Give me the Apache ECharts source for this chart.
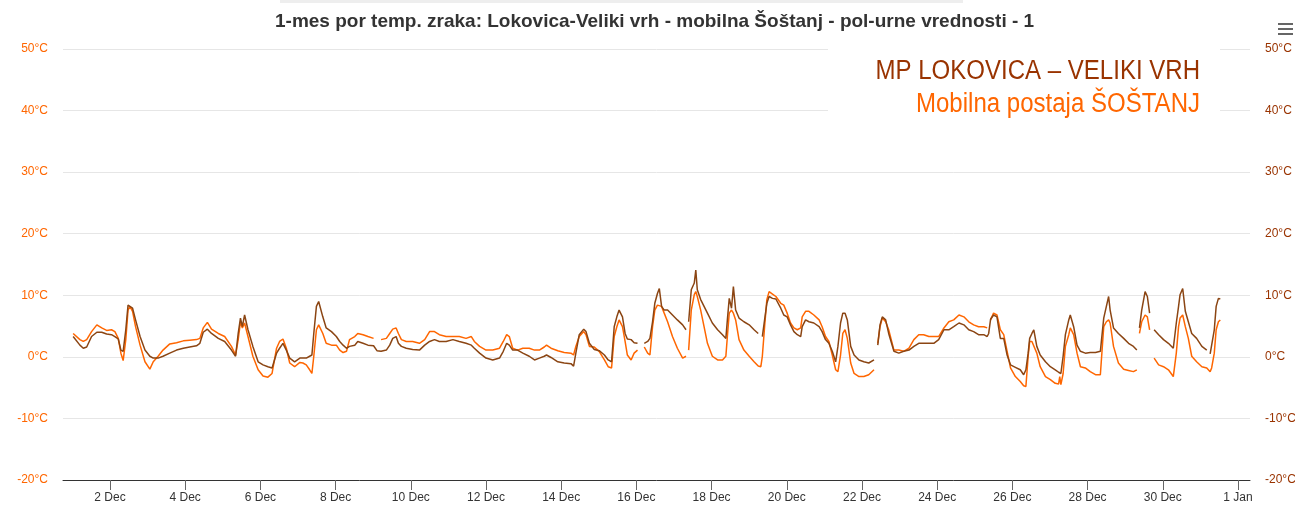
<!DOCTYPE html>
<html>
<head>
<meta charset="utf-8">
<script src="https://cdn.jsdelivr.net/npm/echarts@6/dist/echarts.min.js"></script>
<style>
  html, body { margin: 0; padding: 0; background: #fff; }
  #main { width: 1295px; height: 506px; }
</style>
</head>
<body>
<div id="main"></div>
<script>
// x = day of December (1.0 = 1 Dec 00:00)
var days = [
  1.02, 1.07, 1.20, 1.29, 1.38, 1.51, 1.65, 1.78, 1.91, 2.04, 2.13, 2.22, 2.29, 2.35, 2.42, 2.48, 2.53, 2.60, 2.68, 2.80,
  2.93, 3.06, 3.15, 3.28, 3.41, 3.59, 3.77, 3.95, 4.12, 4.30, 4.39, 4.48, 4.59, 4.70, 4.88, 5.05, 5.23, 5.34, 5.41, 5.47,
  5.52, 5.58, 5.67, 5.80, 5.94, 6.07, 6.20, 6.31, 6.43, 6.51, 6.60, 6.69, 6.78, 6.91, 7.05, 7.13, 7.22, 7.31, 7.37, 7.42,
  7.49, 7.55, 7.60, 7.66, 7.75, 7.89, 8.02, 8.11, 8.20, 8.29, 8.37, 8.51, 8.59, 8.73, 8.86, 9.01, 9.10, 9.21, 9.35, 9.44,
  9.52, 9.61, 9.67, 9.75, 9.88, 10.05, 10.23, 10.37, 10.50, 10.63, 10.76, 10.94, 11.12, 11.29, 11.47, 11.61, 11.69, 11.83, 12.00, 12.18,
  12.36, 12.46, 12.55, 12.62, 12.71, 12.84, 12.98, 13.15, 13.29, 13.42, 13.55, 13.61, 13.73, 13.91, 14.08, 14.26, 14.33, 14.39, 14.48, 14.60,
  14.66, 14.75, 14.88, 15.01, 15.15, 15.25, 15.34, 15.41, 15.48, 15.54, 15.59, 15.63, 15.70, 15.76, 15.86, 15.94, 16.03, 16.09, 16.21, 16.30,
  16.36, 16.43, 16.49, 16.56, 16.61, 16.67, 16.74, 16.83, 16.96, 17.09, 17.23, 17.32, 17.35, 17.39, 17.46, 17.54, 17.58, 17.62, 17.71, 17.80,
  17.89, 18.02, 18.16, 18.29, 18.38, 18.42, 18.47, 18.53, 18.58, 18.64, 18.73, 18.86, 19.00, 19.13, 19.24, 19.31, 19.35, 19.41, 19.47, 19.53,
  19.62, 19.71, 19.84, 19.92, 20.01, 20.10, 20.19, 20.28, 20.37, 20.41, 20.50, 20.59, 20.72, 20.86, 20.94, 21.03, 21.12, 21.21, 21.30, 21.36,
  21.43, 21.49, 21.55, 21.61, 21.70, 21.79, 21.92, 22.05, 22.18, 22.32, 22.37, 22.42, 22.48, 22.54, 22.63, 22.71, 22.85, 22.98, 23.11, 23.25,
  23.38, 23.51, 23.64, 23.78, 23.91, 24.04, 24.18, 24.31, 24.44, 24.58, 24.71, 24.84, 24.97, 25.10, 25.24, 25.33, 25.37, 25.42, 25.50, 25.59,
  25.68, 25.77, 25.86, 25.95, 26.08, 26.21, 26.30, 26.36, 26.42, 26.46, 26.52, 26.57, 26.65, 26.74, 26.88, 27.01, 27.14, 27.23, 27.26, 27.29,
  27.35, 27.41, 27.50, 27.54, 27.58, 27.63, 27.72, 27.81, 27.94, 28.07, 28.21, 28.34, 28.43, 28.50, 28.56, 28.60, 28.69, 28.82, 28.96, 29.09,
  29.22, 29.31, 29.34, 29.38, 29.44, 29.53, 29.59, 29.65, 29.71, 29.77, 29.89, 30.02, 30.15, 30.28, 30.36, 30.42, 30.46, 30.53, 30.60, 30.68,
  30.77, 30.90, 31.04, 31.17, 31.22, 31.26, 31.30, 31.37, 31.42, 31.48, 31.53
];

// MP Lokovica - Veliki vrh (°C)
var lokovica = [
  3.3, 3.6, 1.9, 1.4, 1.6, 3.3, 4.0, 4.0, 3.7, 3.6, 3.3, 2.9, 1.1, 0.9, 4.4, 8.4, 8.6, 7.9, 6.0, 3.3,
  1.1, 0.1, -0.2, -0.2, 0.1, 0.6, 1.1, 1.4, 1.6, 1.8, 2.2, 4.0, 4.5, 3.8, 3.0, 2.5, 1.1, 0.1, 3.8, 6.3,
  4.9, 6.8, 4.4, 1.7, -0.8, -1.3, -1.6, -1.8, 0.6, 1.4, 2.2, 1.1, -0.2, -0.8, -0.2, -0.2, -0.2, 0.1, 0.3, 3.8,
  8.2, 9.0, 8.8, 6.5, 4.7, 4.1, 3.3, 2.5, 1.9, 1.4, 1.7, 1.9, 2.5, 2.2, 1.9, 1.8, 1.0, 0.9, 1.1, 1.9,
  3.0, 3.3, 2.2, 1.7, 1.4, 1.2, 1.1, 1.9, 2.5, 2.8, 2.5, 2.5, 2.8, 2.5, 2.2, 1.9, 1.4, 0.6, -0.2, -0.5,
  -0.2, 0.9, 2.2, 1.9, 1.1, 1.1, 0.6, 0.1, -0.5, -0.2, 0.1, 0.3, -0.1, -0.8, -1.0, -1.1, -1.5, 0.6, 3.6, 4.5,
  4.1, 2.2, 1.2, 1.0, 0.3, -0.5, -0.8, 4.9, 6.5, 7.6, 7.7, 6.5, 3.8, 2.9, 2.8, 2.3, 2.2, null, 2.2, 2.5,
  3.0, 5.7, 8.7, 10.3, 11.1, 8.2, 7.6, 7.6, 6.8, 6.0, 5.2, 4.4, null, 5.7, 10.9, 12.0, 14.1, 10.9, 9.3, 8.2,
  7.1, 5.5, 4.4, 3.6, 3.0, 6.0, 9.5, 7.9, 11.4, 7.6, 6.3, 5.7, 5.2, 4.4, 3.8, null, 3.3, 6.0, 8.7, 9.8,
  9.5, 9.4, 7.9, 6.8, 6.5, 5.2, 4.1, 3.6, 3.3, 4.9, 6.0, 5.7, 5.5, 4.9, 4.1, 2.8, 2.2, 0.9, -0.8, 1.7,
  5.5, 7.1, 7.1, 6.0, 1.7, 0.3, -0.5, -0.8, -1.0, -0.5, null, 1.9, 5.2, 6.5, 6.0, 3.8, 0.9, 0.6, 0.9, 1.1,
  1.7, 2.2, 2.2, 2.2, 2.2, 2.8, 4.4, 4.4, 4.9, 5.5, 5.2, 4.4, 4.1, 3.6, 3.6, 3.3, 3.8, 6.1, 6.8, 6.5,
  3.0, 3.0, 0.3, -1.3, -1.7, -2.1, -2.9, -2.1, 0.6, 3.0, 3.8, 4.4, 1.7, 0.3, -0.8, -1.6, -2.1, -2.5, -2.5, -2.7,
  0.1, 3.6, 6.0, 6.8, 6.8, 4.9, 1.9, 0.9, 0.6, 0.7, 0.7, 0.9, 6.3, 8.2, 9.8, 7.6, 4.7, 3.8, 3.0, 2.2,
  1.7, 1.1, null, 4.7, 7.6, 10.6, 9.8, 7.1, null, 4.4, 3.6, 2.8, 2.2, 1.4, 5.5, 8.2, 10.1, 11.1, 7.4, 5.7,
  3.8, 3.0, 1.7, 1.1, null, 0.5, 0.5, 4.4, 8.2, 9.5, 9.4
];

// Mobilna postaja Šoštanj (°C)
var sostanj = [
  3.8, 4.1, 2.8, 2.5, 2.8, 4.1, 5.2, 4.7, 4.3, 4.4, 4.1, 3.0, 0.6, -0.6, 2.8, 7.6, 8.2, 7.4, 4.9, 1.9,
  -0.8, -2.0, -0.8, 0.1, 1.1, 2.1, 2.3, 2.6, 2.7, 2.8, 3.0, 4.7, 5.6, 4.5, 3.8, 3.3, 1.7, 0.3, 2.8, 5.7,
  4.7, 5.5, 3.3, 0.1, -2.1, -3.1, -3.3, -2.7, 1.4, 2.5, 2.9, 1.4, -1.0, -1.6, -0.9, -1.0, -1.3, -2.1, -2.7, 0.1,
  4.4, 5.2, 5.5, 3.8, 2.2, 1.9, 1.9, 1.1, 0.7, 0.9, 2.8, 3.3, 3.8, 3.6, 3.3, 3.0, null, 2.8, 3.0, 3.8,
  4.5, 4.7, 3.8, 2.8, 2.5, 2.5, 2.2, 2.8, 4.1, 4.1, 3.6, 3.3, 3.3, 3.3, 3.0, 3.3, 2.5, 1.7, 1.1, 1.1,
  1.4, 2.5, 3.6, 3.3, 1.4, 1.1, 1.4, 1.4, 1.1, 1.1, 1.6, 1.9, 1.4, 1.0, 0.7, 0.6, 0.3, 1.7, 3.3, 4.1,
  3.6, 1.7, 1.6, 0.9, -0.5, -1.6, -1.8, 3.3, 4.9, 6.0, 6.3, 4.9, 2.5, 0.3, -0.5, 0.6, 1.1, null, 1.6, 0.6,
  0.3, 4.9, 7.6, 8.4, 8.4, 8.2, 7.1, 5.7, 3.3, 1.4, -0.2, 0.1, null, 1.1, 7.6, 10.1, 10.6, 9.8, 7.6, 4.9,
  2.2, 0.1, -0.5, -0.5, 0.1, 3.3, 7.1, 7.6, 7.1, 6.0, 2.8, 1.1, 0.1, -0.8, -1.5, -1.6, 0.1, 4.9, 9.3, 10.6,
  10.2, 9.8, 8.7, 8.4, 7.1, 5.5, 4.7, 4.4, 4.7, 6.5, 7.4, 7.4, 6.8, 6.0, 4.9, 3.3, 2.5, 0.3, -2.1, -2.4,
  0.3, 3.8, 4.4, 3.0, -1.0, -2.7, -3.2, -3.2, -2.9, -2.1, null, 2.2, 4.9, 6.3, 5.7, 4.4, 1.1, 1.1, 0.9, 1.4,
  2.8, 3.6, 3.6, 3.3, 3.3, 3.3, 4.7, 5.7, 6.0, 6.8, 6.5, 5.7, 5.2, 4.9, 4.9, 4.7, null, 6.0, 7.1, 6.8,
  4.4, 3.6, 0.9, -1.8, -3.2, -4.0, -4.7, -4.8, 0.1, 2.5, 2.5, 2.2, 0.6, -1.6, -3.2, -3.7, -4.3, -4.4, -3.2, -4.5,
  -2.7, 1.7, 3.6, 4.7, 4.9, 3.6, 0.6, -1.6, -1.8, -2.4, -2.9, -2.9, 4.9, 5.7, 6.0, 5.5, 1.7, -1.0, -2.0, -2.2,
  -2.4, -2.1, null, 3.8, 5.7, 6.8, 6.5, 4.4, null, -0.2, -1.3, -1.6, -2.1, -3.2, 0.6, 4.9, 6.3, 6.8, 4.9, 3.0,
  0.1, -0.8, -1.6, -1.8, -2.1, -2.4, -1.8, 0.6, 4.4, 5.7, 6.0
];

var tickDays = [2, 4, 6, 8, 10, 12, 14, 16, 18, 20, 22, 24, 26, 28, 30, 32];
var tickLabels = ['2 Dec', '4 Dec', '6 Dec', '8 Dec', '10 Dec', '12 Dec', '14 Dec', '16 Dec',
  '18 Dec', '20 Dec', '22 Dec', '24 Dec', '26 Dec', '28 Dec', '30 Dec', '1 Jan'];

var nameLok = 'MP LOKOVICA – VELIKI VRH';
var nameSos = 'Mobilna postaja ŠOŠTANJ';

function pairs(vals) {
  return days.map(function (d, i) { return [d, vals[i]]; });
}

var font = "'Liberation Sans', Arial, sans-serif";
var myChart = echarts.init(document.getElementById('main'));

myChart.setOption({
  animation: false,
  backgroundColor: '#fff',
  textStyle: { fontFamily: font },
  title: {
    text: '1-mes por temp. zraka: Lokovica-Veliki vrh - mobilna Šoštanj - pol-urne vrednosti - 1',
    left: 275,
    top: 12,
    padding: 0,
    textStyle: { fontSize: 19, fontWeight: 'bold', color: '#333333', fontFamily: font }
  },
  // legend is drawn as narrow text on a white panel (see graphic below)
  legend: { show: false, data: [nameLok, nameSos] },
  grid: { left: 63, right: 45, top: 49, bottom: 26, outerBoundsMode: 'none' },
  xAxis: {
    type: 'value',
    min: 0.75,
    max: 32.32,
    axisLine: { onZero: false, lineStyle: { color: '#333333', width: 1 } },
    axisTick: { customValues: tickDays, length: 10, lineStyle: { color: '#666666' } },
    axisLabel: {
      customValues: tickDays,
      color: '#333333',
      fontSize: 12,
      margin: 12,
      formatter: function (v) { return tickLabels[tickDays.indexOf(v)]; }
    },
    splitLine: { show: false }
  },
  yAxis: [
    {
      type: 'value', position: 'left', min: -20, max: 50, interval: 10,
      axisLine: { show: false }, axisTick: { show: false },
      axisLabel: { formatter: '{value}°C', color: '#FF6600', fontSize: 12, margin: 15 },
      splitLine: { lineStyle: { color: '#e6e6e6' } }
    },
    {
      type: 'value', position: 'right', min: -20, max: 50, interval: 10,
      axisLine: { show: false }, axisTick: { show: false },
      axisLabel: { formatter: '{value}°C', color: '#993300', fontSize: 12, margin: 15 },
      splitLine: { show: false }
    }
  ],
  series: [
    {
      name: nameSos, type: 'line', yAxisIndex: 0, data: pairs(sostanj),
      showSymbol: false, connectNulls: false,
      lineStyle: { color: '#FF6600', width: 1.5 }, itemStyle: { color: '#FF6600' }
    },
    {
      name: nameLok, type: 'line', yAxisIndex: 1, data: pairs(lokovica),
      showSymbol: false, connectNulls: false,
      lineStyle: { color: '#8B4513', width: 1.5 }, itemStyle: { color: '#8B4513' }
    }
  ],
  graphic: [
    { type: 'rect', left: 280, top: 0, shape: { width: 683, height: 3 }, style: { fill: '#eeeeee' } },
    { type: 'rect', left: 1278, top: 23, shape: { width: 15, height: 2 }, style: { fill: '#666666' } },
    { type: 'rect', left: 1278, top: 28, shape: { width: 15, height: 2 }, style: { fill: '#666666' } },
    { type: 'rect', left: 1278, top: 33, shape: { width: 15, height: 2 }, style: { fill: '#666666' } },
    { type: 'rect', z: 10, x: 828, y: 42, shape: { width: 392, height: 86 }, style: { fill: '#ffffff' } },
    {
      type: 'text', z: 11, x: 1200, y: 72, scaleX: 0.89,
      style: { text: nameLok, fill: '#993300', font: "27px 'Liberation Sans', Arial, sans-serif",
        textAlign: 'right', textVerticalAlign: 'middle' }
    },
    {
      type: 'text', z: 11, x: 1200, y: 105, scaleX: 0.89,
      style: { text: nameSos, fill: '#FF6600', font: "27px 'Liberation Sans', Arial, sans-serif",
        textAlign: 'right', textVerticalAlign: 'middle' }
    }
  ]
});
</script>
</body>
</html>
